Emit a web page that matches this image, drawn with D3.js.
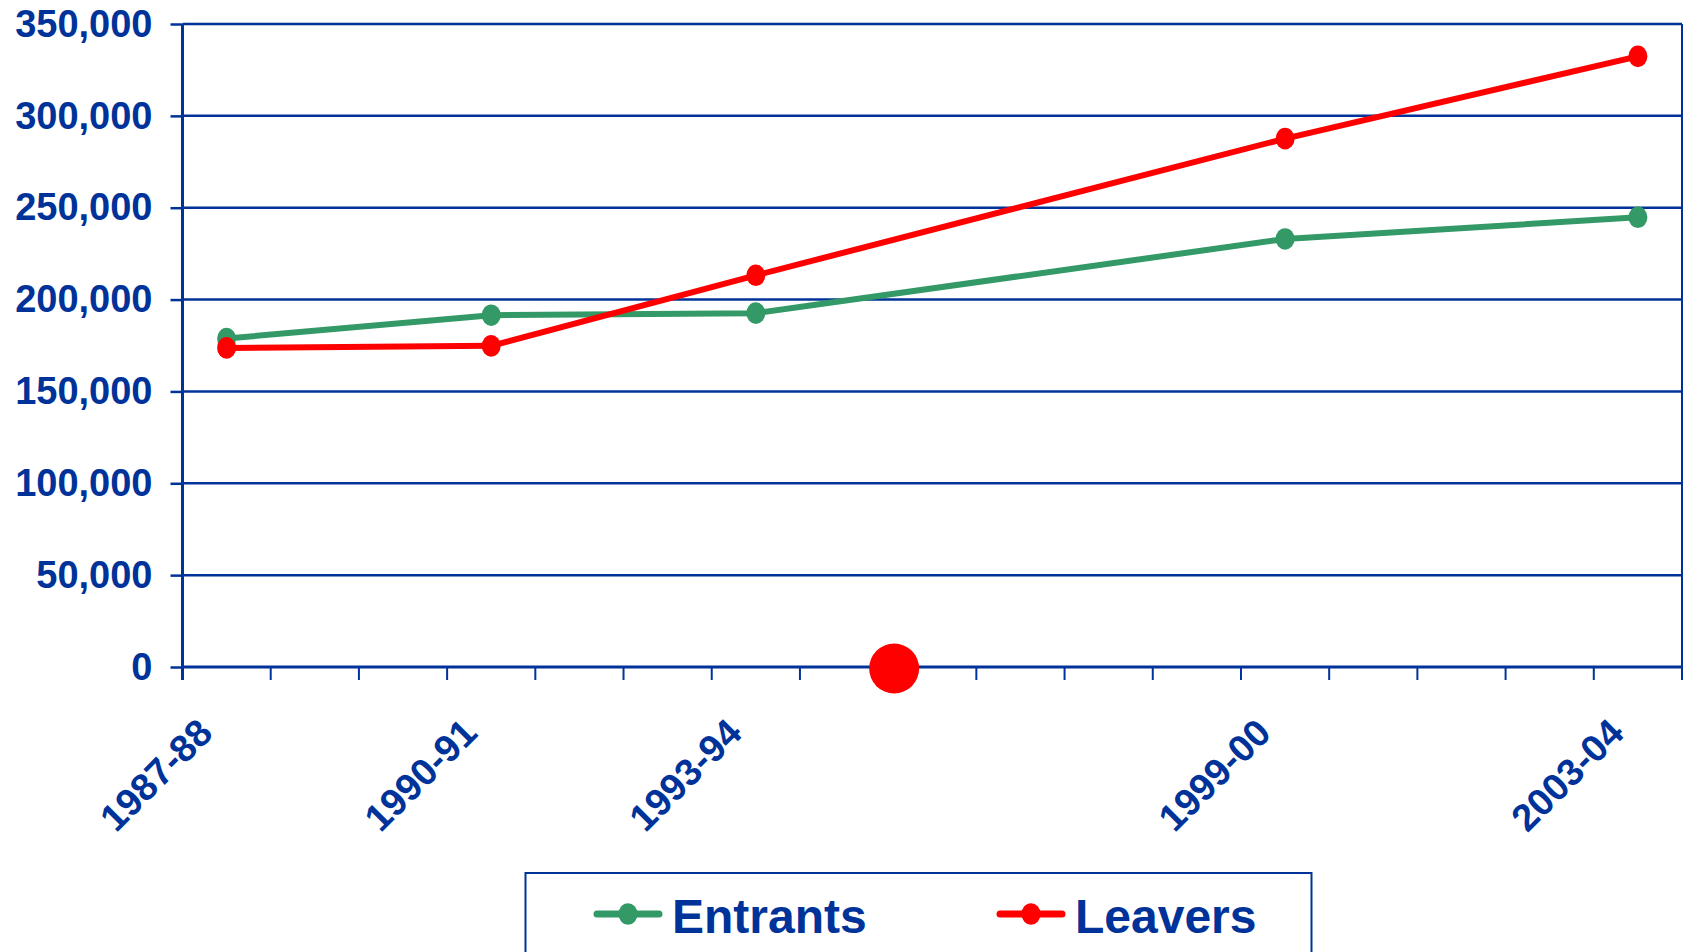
<!DOCTYPE html>
<html>
<head>
<meta charset="utf-8">
<script src="https://cdn.jsdelivr.net/npm/d3@7"></script>
<style>
  body { margin: 0; background: #fff; }
  text { font-family: "Liberation Sans", Arial, sans-serif; font-weight: bold; fill: #003399; }
</style>
</head>
<body>
<div id="plotarea"></div>
<script>
// school years on the x axis (one band each)
var years = ["1987-88","1988-89","1989-90","1990-91","1991-92","1992-93","1993-94","1994-95",
             "1995-96","1996-97","1997-98","1998-99","1999-00","2000-01","2001-02","2002-03","2003-04"];
var labelledYears = ["1987-88","1990-91","1993-94","1999-00","2003-04"];
var yTicks = [0, 50000, 100000, 150000, 200000, 250000, 300000, 350000];

var entrants = [178800, 191500, 192600, 233000, 244800];
var leavers  = [173700, 174800, 213200, 287600, 332400];

// the stray big red dot sitting on the x axis
var strayDot = [{year: "1995-96", value: 0}];

var seriesNames = ["Entrants", "Leavers"];
var seriesColors = ["#339966", "#ff0000"];

function drawChart() {
    var width = 1692, height = 952;
    var navy = "#003399";
    var left = 182.5, right = 1682, top = 24, bottom = 667;

    var svg = d3.select("#plotarea").append("svg")
                .attr("width", width)
                .attr("height", height);

    var x = d3.scaleBand().domain(years).range([left, right]).padding(0);
    var y = d3.scaleLinear().domain([0, 350000]).range([bottom, top]);
    var cx = function(yr) { return x(yr) + x.bandwidth() / 2; };

    // gridlines
    svg.append("g").selectAll("line")
        .data(yTicks.filter(function(d){ return d > 0; }))
        .enter().append("line")
        .attr("x1", left).attr("x2", right)
        .attr("y1", function(d){ return y(d); })
        .attr("y2", function(d){ return y(d); })
        .attr("stroke", navy)
        .attr("stroke-width", 2.5);

    // right border
    svg.append("line")
        .attr("x1", right).attr("x2", right)
        .attr("y1", y(350000)).attr("y2", y(0))
        .attr("stroke", navy).attr("stroke-width", 2);

    // y axis
    var yAxis = svg.append("g")
        .attr("transform", "translate(" + left + ",0)")
        .call(d3.axisLeft(y).tickValues(yTicks).tickSize(12).tickPadding(18).tickFormat(d3.format(",")));
    yAxis.select(".domain").remove();
    yAxis.selectAll("line").attr("stroke", navy).attr("stroke-width", 2.5);
    yAxis.selectAll("text").attr("font-size", 38).attr("fill", navy)
        .attr("font-family", "'Liberation Sans', Arial, sans-serif").attr("font-weight", "bold");
    svg.append("line")
        .attr("x1", left).attr("x2", left)
        .attr("y1", y(350000)).attr("y2", y(0) + 13)
        .attr("stroke", navy).attr("stroke-width", 3);

    // x axis: ticks between categories
    svg.append("line")
        .attr("x1", left).attr("x2", right)
        .attr("y1", y(0)).attr("y2", y(0))
        .attr("stroke", navy).attr("stroke-width", 3);
    var edges = years.map(function(d){ return x(d); }).concat([x.range()[1]]);
    svg.append("g").selectAll("line")
        .data(edges)
        .enter().append("line")
        .attr("x1", function(d){ return d; }).attr("x2", function(d){ return d; })
        .attr("y1", y(0)).attr("y2", y(0) + 13)
        .attr("stroke", navy).attr("stroke-width", 2);

    svg.append("g").selectAll("text")
        .data(labelledYears)
        .enter().append("text")
        .attr("text-anchor", "end")
        .attr("font-size", 38)
        .attr("transform", function(d){ return "translate(" + (cx(d) - 12) + "," + (y(0) + 68) + ") rotate(-45)"; })
        .text(function(d){ return d; });

    // lines + markers
    var all = [entrants, leavers];
    var line = d3.line()
        .x(function(d, i){ return cx(labelledYears[i]); })
        .y(function(d){ return y(d); });

    all.forEach(function(vals, k) {
        svg.append("path")
            .datum(vals)
            .attr("fill", "none")
            .attr("stroke", seriesColors[k])
            .attr("stroke-width", 6)
            .attr("stroke-linejoin", "round")
            .attr("d", line);
        svg.append("g").selectAll("ellipse")
            .data(vals)
            .enter().append("ellipse")
            .attr("cx", function(d, i){ return cx(labelledYears[i]); })
            .attr("cy", function(d){ return y(d); })
            .attr("rx", 9.5).attr("ry", 10.8)
            .attr("fill", seriesColors[k]);
    });

    svg.append("g").selectAll("circle")
        .data(strayDot)
        .enter().append("circle")
        .attr("cx", function(d){ return x(d.year) + 6; })
        .attr("cy", function(d){ return y(d.value) + 1.5; })
        .attr("r", 25)
        .attr("fill", "#ff0000");

    // legend (box runs off the bottom of the picture)
    var legend = svg.append("g");
    legend.append("rect")
        .attr("x", 525.5).attr("y", 873)
        .attr("width", 786).attr("height", 120)
        .attr("fill", "none")
        .attr("stroke", navy).attr("stroke-width", 2);

    var legendX = [597, 1000];
    seriesNames.forEach(function(name, k) {
        var g = legend.append("g").attr("transform", "translate(" + legendX[k] + ",914)");
        g.append("line")
            .attr("x1", 0).attr("x2", 62)
            .attr("stroke", seriesColors[k]).attr("stroke-width", 7)
            .attr("stroke-linecap", "round");
        g.append("ellipse")
            .attr("cx", 31).attr("rx", 9.5).attr("ry", 10.8)
            .attr("fill", seriesColors[k]);
        g.append("text")
            .attr("x", 75).attr("y", 19)
            .attr("font-size", 48)
            .text(name);
    });
}

drawChart();
</script>
</body>
</html>
